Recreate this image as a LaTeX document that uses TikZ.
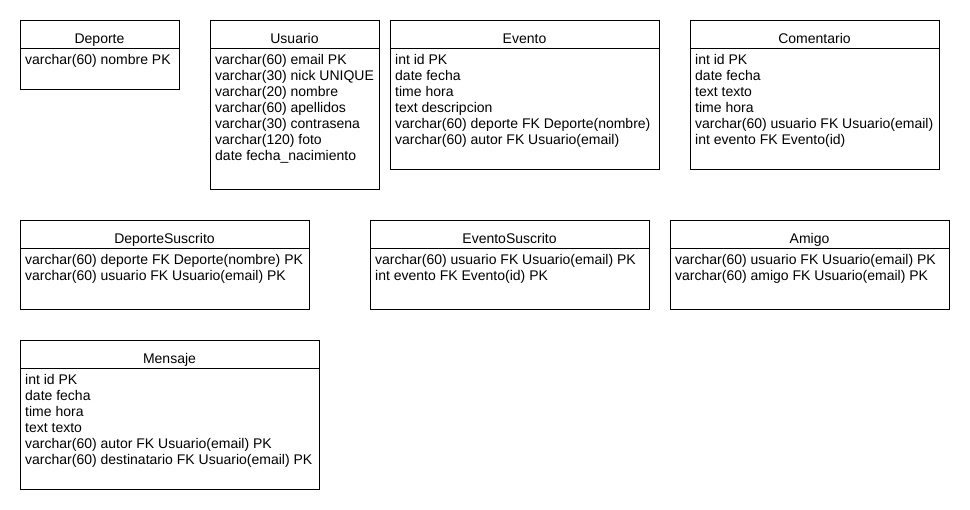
\documentclass[tikz,border=0pt]{standalone}
\usepackage{fontspec}
\setmainfont{Liberation Sans}
\usetikzlibrary{positioning}

\tikzset{
  tabla/.style={draw, rectangle, line width=0.8pt, inner sep=0pt, outer sep=0pt, anchor=north west},
  titulo/.style={draw, rectangle, line width=0.8pt, inner sep=0pt, outer sep=0pt, anchor=north, text height=23.5pt, text depth=4.5pt},
  campos/.style={align=left, inner sep=0pt, anchor=north west},
}

\begin{document}
\begin{tikzpicture}[x=1pt, y=1pt, font=\fontsize{14}{16}\selectfont]
\useasboundingbox (0,0) rectangle (970,-510);

% tablas de arriba
\node (deporte) [tabla, minimum width=159pt, minimum height=69pt] at (20,-20) {};
\node (usuario) [tabla, minimum width=169pt, minimum height=169pt, right=31pt of deporte.north east, anchor=north west] {};
\node (evento) [tabla, minimum width=269pt, minimum height=149pt, right=11pt of usuario.north east, anchor=north west] {};
\node (comentario) [tabla, minimum width=249pt, minimum height=149pt, right=31pt of evento.north east, anchor=north west] {};

\node (deporte-t) [titulo, minimum width=159pt] at (deporte.north) {Deporte};
\node (usuario-t) [titulo, minimum width=169pt] at (usuario.north) {Usuario};
\node (evento-t) [titulo, minimum width=269pt] at (evento.north) {Evento};
\node (comentario-t) [titulo, minimum width=249pt] at (comentario.north) {Comentario};

\node (deporte-c) [campos] at ([xshift=5pt, yshift=-32.8pt]deporte.north west) {\strut varchar(60) nombre PK};
\node (usuario-c) [campos] at ([xshift=5pt, yshift=-32.8pt]usuario.north west) {\strut varchar(60) email PK\\varchar(30) nick UNIQUE\\varchar(20) nombre\\varchar(60) apellidos\\varchar(30) contrasena\\varchar(120) foto\\date fecha\_nacimiento};
\node (evento-c) [campos] at ([xshift=5pt, yshift=-32.8pt]evento.north west) {\strut int id PK\\date fecha\\time hora\\text descripcion\\varchar(60) deporte FK Deporte(nombre)\\varchar(60) autor FK Usuario(email)};
\node (comentario-c) [campos] at ([xshift=5pt, yshift=-32.8pt]comentario.north west) {\strut int id PK\\date fecha\\text texto\\time hora\\varchar(60) usuario FK Usuario(email)\\int evento FK Evento(id)};

% tablas del medio
\node (depsus) [tabla, minimum width=289pt, minimum height=89pt] at (20,-220) {};
\node (evsus) [tabla, minimum width=279pt, minimum height=89pt, right=61pt of depsus.north east, anchor=north west] {};
\node (amigo) [tabla, minimum width=279pt, minimum height=89pt, right=21pt of evsus.north east, anchor=north west] {};

\node (depsus-t) [titulo, minimum width=289pt] at (depsus.north) {DeporteSuscrito};
\node (evsus-t) [titulo, minimum width=279pt] at (evsus.north) {EventoSuscrito};
\node (amigo-t) [titulo, minimum width=279pt] at (amigo.north) {Amigo};

\node (depsus-c) [campos] at ([xshift=5pt, yshift=-32.8pt]depsus.north west) {\strut varchar(60) deporte FK Deporte(nombre) PK\\varchar(60) usuario FK Usuario(email) PK};
\node (evsus-c) [campos] at ([xshift=5pt, yshift=-32.8pt]evsus.north west) {\strut varchar(60) usuario FK Usuario(email) PK\\int evento FK Evento(id) PK};
\node (amigo-c) [campos] at ([xshift=5pt, yshift=-32.8pt]amigo.north west) {\strut varchar(60) usuario FK Usuario(email) PK\\varchar(60) amigo FK Usuario(email) PK};

% tabla de abajo
\node (mensaje) [tabla, minimum width=299pt, minimum height=149pt] at (20,-340) {};
\node (mensaje-t) [titulo, minimum width=299pt] at (mensaje.north) {Mensaje};
\node (mensaje-c) [campos] at ([xshift=5pt, yshift=-32.8pt]mensaje.north west) {\strut int id PK\\date fecha\\time hora\\text texto\\varchar(60) autor FK Usuario(email) PK\\varchar(60) destinatario FK Usuario(email) PK};
\end{tikzpicture}
\end{document}
